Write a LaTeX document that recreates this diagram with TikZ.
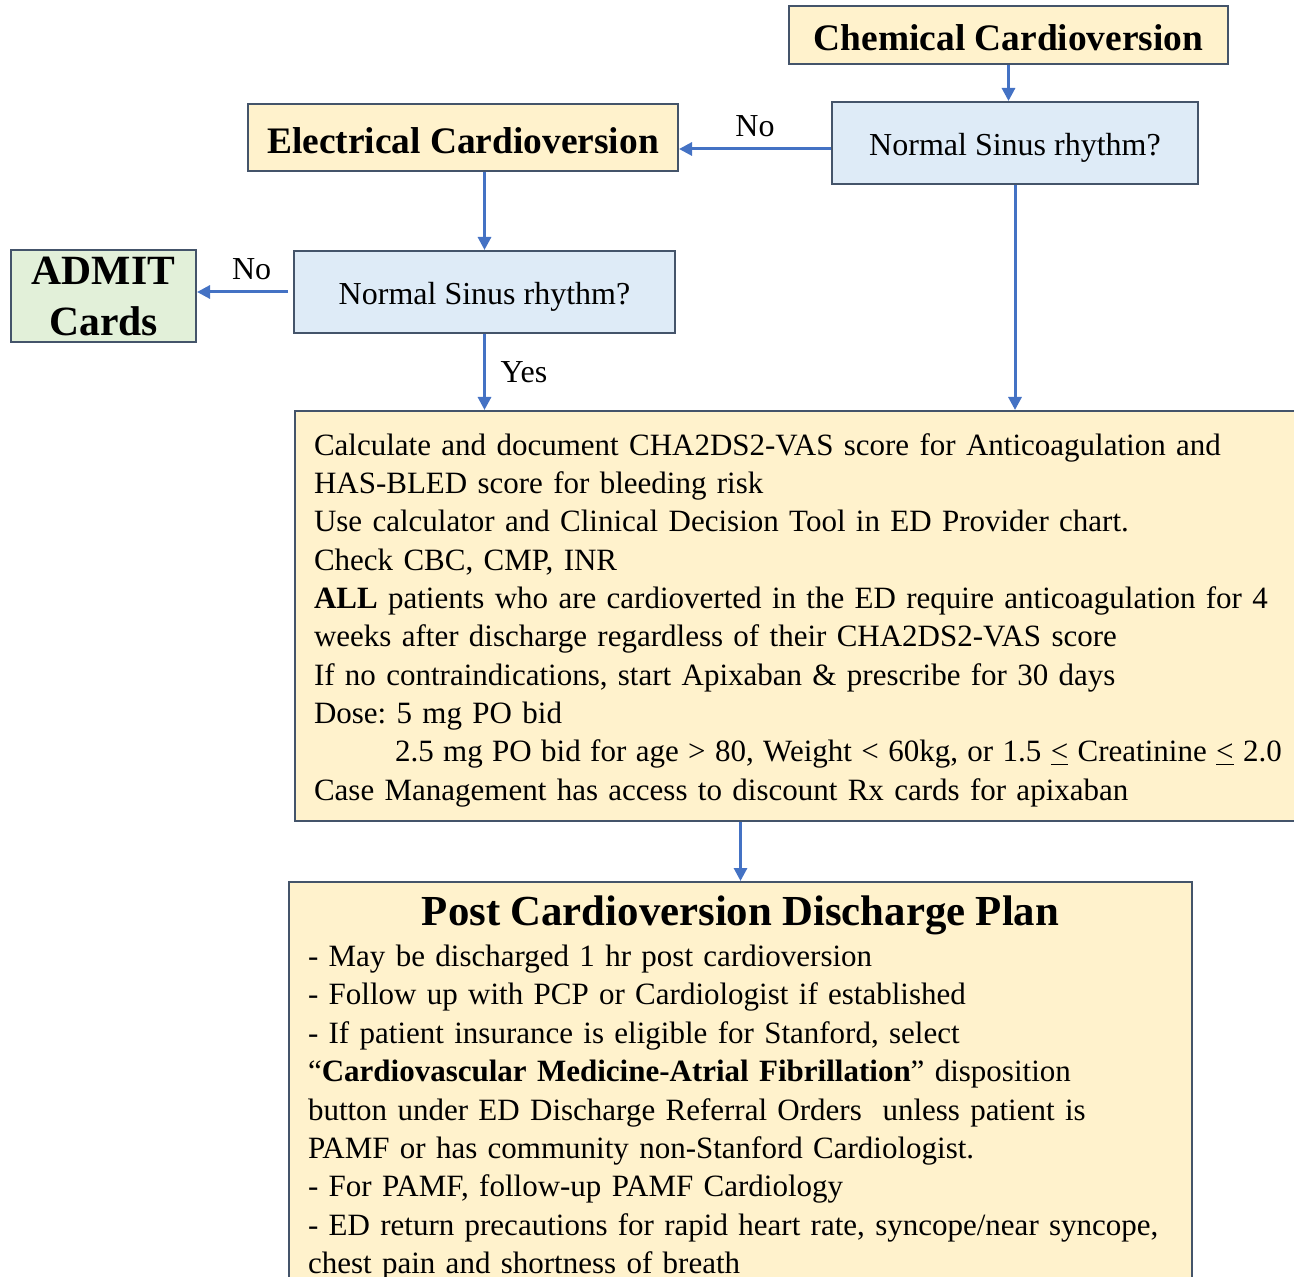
\documentclass[tikz,border=0pt]{standalone}
\usepackage{fontspec}
\setmainfont{Liberation Serif}
\usetikzlibrary{arrows.meta}
\usetikzlibrary{positioning}
\frenchspacing
\definecolor{boxline}{HTML}{44546A}
\definecolor{flowblue}{HTML}{4472C4}
\definecolor{noteyellow}{HTML}{FFF2CC}
\definecolor{askblue}{HTML}{DEEBF7}
\definecolor{admitgreen}{HTML}{E2F0D9}
\newcommand{\bodyfont}{\fontsize{16}{19.2}\selectfont}
\newcommand{\notefont}{\fontsize{15.5}{19.17}\selectfont}
\newcommand{\titlefont}{\fontsize{18.7}{22}\selectfont\bfseries}

\begin{document}
\begin{tikzpicture}[x=0.5pt, y=-0.5pt,
    box/.style={draw=boxline, line width=1pt, inner sep=0pt},
    titlebox/.style={box, fill=noteyellow, font=\titlefont, text height=16pt, text depth=0pt},
    askbox/.style={box, fill=askblue, font=\bodyfont, minimum height=41pt, text height=16.5pt, text depth=3.5pt},
    notebox/.style={box, fill=noteyellow, anchor=north west, align=left, inner xsep=9.5pt, font=\notefont},
    flow/.style={draw=flowblue, line width=1.5pt, -{Triangle[width=6.5pt,length=6.5pt]}},
    lbl/.style={font=\bodyfont}]
      \useasboundingbox (0,0) rectangle (1294,1277);
      \node[titlebox, minimum width=219.5pt, minimum height=29pt] (chem) at (1008.5,35) {Chemical Cardioversion};
      \node[askbox, minimum width=183pt] (ask1) at (1015,143) {Normal Sinus rhythm?};
      \node[titlebox, minimum width=215pt, minimum height=33.5pt] (elec) at (463,137.5) {Electrical Cardioversion};
      \node[askbox, minimum width=190.5pt] (ask2) at (484.5,292) {Normal Sinus rhythm?};
      \node[box, fill=admitgreen, minimum width=92.5pt, minimum height=46pt, align=center, font=\fontsize{20.8}{25.5}\selectfont\bfseries] (admit) at (103.5,296) {ADMIT\\Cards};
      \node[notebox, minimum height=205pt, text width=500pt] (calc) at (294,410) {\rule{0pt}{15pt}Calculate and document CHA2DS2-VAS score for Anticoagulation and\\
        HAS-BLED score for bleeding risk\\
        Use calculator and Clinical Decision Tool in ED Provider chart.\\
        Check CBC, CMP, INR\\
        \textbf{ALL} patients who are cardioverted in the ED require anticoagulation for 4\\
        weeks after discharge regardless of their CHA2DS2-VAS score\\
        If no contraindications, start Apixaban \& prescribe for 30 days\\
        Dose: 5 mg PO bid\\
        \hspace*{40.5pt}{\spaceskip=4.7pt\relax 2.5 mg PO bid for age > 80, Weight < 60kg, or 1.5 \underline{<} Creatinine \underline{<} 2.0}\\
        Case Management has access to discount Rx cards for apixaban};
      \node[notebox, inner ysep=7pt, text width=432.5pt] (plan) at (288,881) {\makebox[\linewidth]{\fontsize{21.4}{25}\selectfont\bfseries Post Cardioversion Discharge Plan}\\[1.3pt]
        - May be discharged 1 hr post cardioversion\\
        - Follow up with PCP or Cardiologist if established\\
        - If patient insurance is eligible for Stanford, select\\
        “\textbf{Cardiovascular Medicine-Atrial Fibrillation}” disposition\\
        button under ED Discharge Referral Orders\ \ unless patient is\\
        PAMF or has community non-Stanford Cardiologist.\\
        - For PAMF, follow-up PAMF Cardiology\\
        - ED return precautions for rapid heart rate, syncope/near syncope,\\
        chest pain and shortness of breath};
      \draw[flow] (chem.south) -- (chem.south |- ask1.north);
      \draw[flow] ([yshift=-3pt]ask1.west) -- ([yshift=-3pt]ask1.west -| elec.east) node[lbl, midway, above=2pt] (no1) {No};
      \draw[flow] (elec.south -| ask2.north) -- (ask2.north);
      \draw[flow] ([xshift=-2.5pt]ask2.west) -- (ask2.west -| admit.east) node[lbl, pos=0.4, above=2pt] (no2) {No};
      \draw[flow] (ask2.south) -- (ask2.south |- calc.north) node[lbl, midway, right=4pt] (yes) {Yes};
      \draw[flow] (ask1.south) -- (ask1.south |- calc.north);
      \draw[flow] (calc.south -| plan.north) -- (plan.north);
    \end{tikzpicture}
\end{document}
